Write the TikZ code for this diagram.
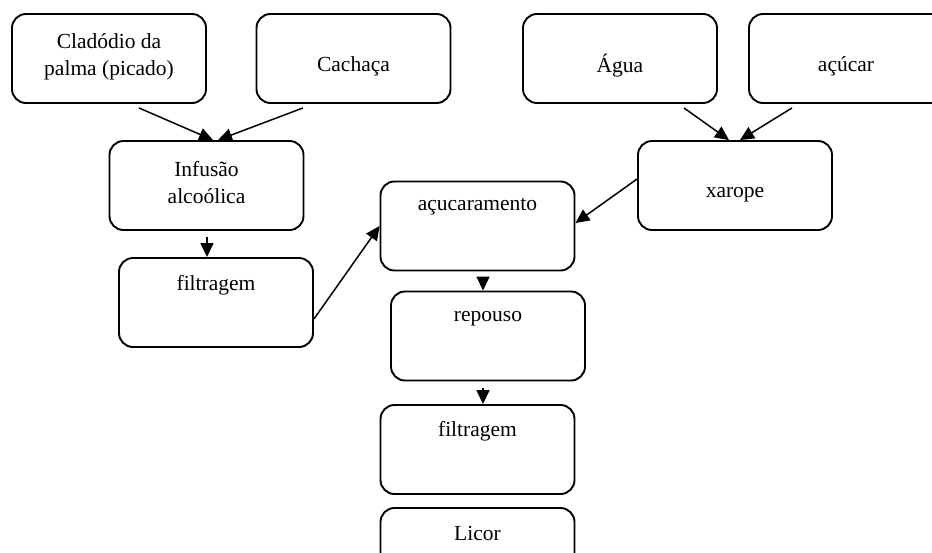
\documentclass[tikz,border=0pt]{standalone}
\usepackage{fontspec}
\setmainfont{Liberation Serif}
\usepackage{tikz}
\usetikzlibrary{positioning,arrows.meta,calc}
\definecolor{ink}{RGB}{0,0,0}
\tikzset{
  box/.style={draw=ink, fill=white, rounded corners=14pt, minimum width=194pt,
    minimum height=89pt, inner sep=0pt, line width=1.9pt},
  txt/.style={align=center, inner sep=0pt, text=ink,
    font=\fontsize{21.5}{27}\selectfont},
  flow/.style={-{Triangle[length=14pt, width=13pt]}, line width=1.5pt, draw=ink},
}

\begin{document}
\begin{tikzpicture}[x=1pt, y=-1pt]
  \useasboundingbox (0,0) rectangle (932,552);
  \clip (0,0) rectangle (932,552);
  % ingredients
  \node[box] (clad) at (109,58.5) {};
  \node[box] (cach) at (353.5,58.5) {};
  \node[box] (agua) at (620,58.5) {};
  \node[box, minimum width=214pt] (acuc) at (856,58.5) {};
  \node[txt] (cladt) at (109,57) {Cladódio da\\palma (picado)};
  \node[txt] (cacht) at (353.5,66) {Cachaça};
  \node[txt] (aguat) at (620,66) {Água};
  \node[txt] (acuct) at (846,66) {açúcar};
  % steps
  \node[box] (infu) at (206.5,185.5) {};
  \node[box] (xaro) at (735,185.5) {};
  \node[box] (acuca) at (477.5,226) {};
  \node[box] (filt) at (216,302.5) {};
  \node[box] (repo) at (488,336) {};
  \node[box] (filtb) at (477.5,449.5) {};
  \node[box] (lico) at (477.5,552.5) {};
  \node[txt] (infut) at (206.5,183) {Infusão\\alcoólica};
  \node[txt] (xarot) at (735,195) {xarope};
  \node[txt] (acucat) at (477.5,207) {açucaramento};
  \node[txt] (filtt) at (216,285) {filtragem};
  \node[txt] (repot) at (488,319) {repouso};
  \node[txt] (filtbt) at (477.5,431) {filtragem};
  \node[txt] (licot) at (477.5,533) {Licor};
  % arrows
  \draw[flow] ([shift={(30,4)}]clad.south) -- ([xshift=6.5]infu.north);
  \draw[flow] ([shift={(-50.5,4)}]cach.south) -- ([xshift=11.5]infu.north);
  \draw[flow] ([shift={(64,4)}]agua.south) -- ([xshift=-6]xaro.north);
  \draw[flow] ([shift={(-64,4)}]acuc.south) -- ([xshift=5]xaro.north);
  \draw[flow] ([shift={(0.5,6)}]infu.south) -- ([xshift=-9]filt.north);
  \draw[flow] ([yshift=-16.5]filt.east) -- (acuca.west);
  \draw[flow] ([yshift=6.5]xaro.west) -- ([yshift=3]acuca.east);
  \draw[flow] ([shift={(5.5,7)}]acuca.south) -- ([xshift=-5]repo.north);
  \draw[flow] ([shift={(-5,7)}]repo.south) -- ([xshift=5.5]filtb.north);
\end{tikzpicture}
\end{document}
